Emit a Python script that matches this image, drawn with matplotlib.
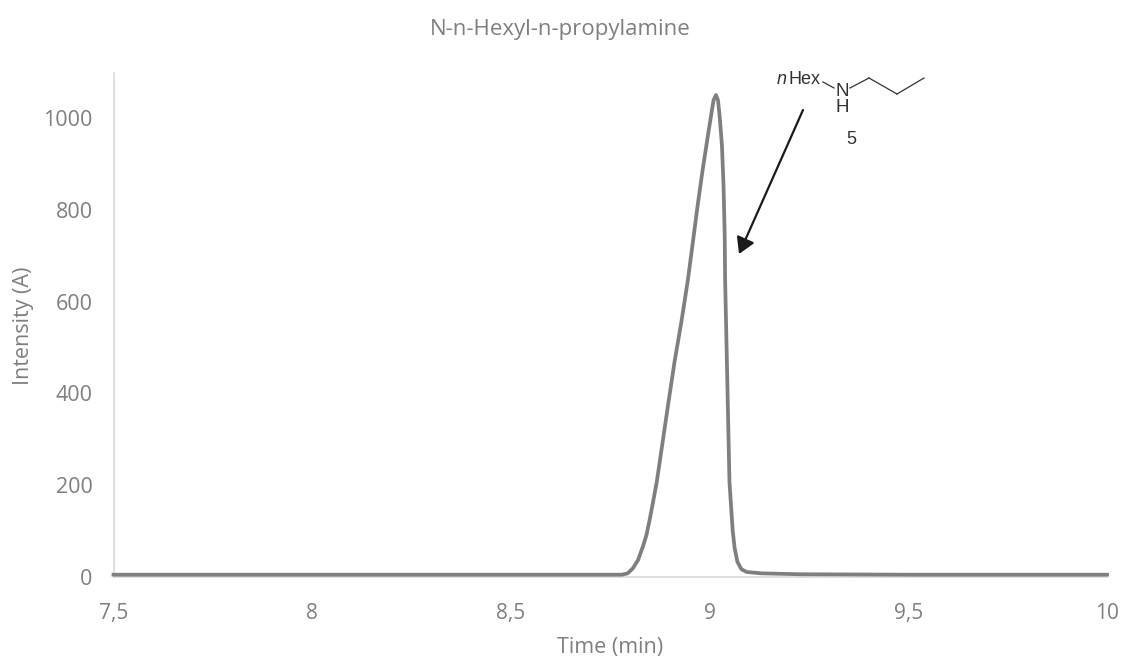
import matplotlib
matplotlib.use("Agg")
import matplotlib.pyplot as plt
from matplotlib.lines import Line2D
from matplotlib.patches import FancyArrowPatch

time_min = [7.5, 8.0, 8.5, 8.76, 8.779, 8.794, 8.807, 8.82, 8.832, 8.841, 8.849, 8.857, 8.867,
            8.882, 8.895, 8.912, 8.929, 8.945, 8.958, 8.970, 8.983, 8.996, 9.004, 9.010, 9.016,
            9.021, 9.025, 9.031, 9.035, 9.038, 9.039, 9.043, 9.046, 9.05, 9.058, 9.063, 9.07,
            9.08, 9.093, 9.13, 9.226, 9.5, 10.0]
intensity = [5, 5, 5, 5, 5, 8, 19, 37, 66, 91, 124, 160, 207,
             295, 372, 470, 556, 645, 730, 810, 890, 963, 1007, 1039, 1050,
             1039, 1007, 941, 854, 745, 650, 490, 368, 207, 102, 63, 33,
             17, 11, 8, 6, 5, 5]
x_ticks = [7.5, 8, 8.5, 9, 9.5, 10]
x_labels = ["7,5", "8", "8,5", "9", "9,5", "10"]
y_ticks = [0, 200, 400, 600, 800, 1000]
title = "N-n-Hexyl-n-propylamine"
xlabel = "Time (min)"
ylabel = "Intensity (A)"

W, H = 1122, 659
TXT = "#7f7f7f"
plt.rcParams["font.family"] = ["Open Sans", "DejaVu Sans"]
fig = plt.figure(figsize=(W / 100, H / 100), dpi=100, facecolor="white")
ax = fig.add_axes([113.5 / W, 1 - 577 / H, (1107 - 113.5) / W, (577 - 73) / H])
ax.plot(time_min, intensity, color="#7f7f7f", lw=2.7, solid_joinstyle="round", clip_on=False, zorder=3)
ax.set_xlim(7.5, 10)
ax.set_ylim(0, 1098)
ax.set_xticks(x_ticks, x_labels)
ax.set_yticks(y_ticks)
ax.tick_params(axis="x", length=0, labelsize=15, labelcolor=TXT, pad=19)
ax.tick_params(axis="y", length=0, labelsize=15.5, labelcolor=TXT, pad=15)
for s in ("top", "right"):
    ax.spines[s].set_visible(False)
for s in ("left", "bottom"):
    ax.spines[s].set_color("#d9d9d9")
    ax.spines[s].set_linewidth(1.2)
fig.text(560 / W, 1 - 29 / H, title, ha="center", va="center", fontsize=16, color=TXT)
fig.text(610 / W, 1 - 647 / H, xlabel, ha="center", va="center", fontsize=15.5, color=TXT)
fig.text(24 / W, 1 - 326 / H, ylabel, ha="center", va="center", rotation=90, fontsize=15.5, color=TXT)

def px(x, y):
    return (x / W, 1 - y / H)

# structure drawing overlay
C = "#333333"
for seg in ([(823, 82), (834, 88)], [(850, 88), (869, 78)], [(869, 78), (897, 94)], [(897, 94), (924, 78)]):
    xs, ys = zip(*[px(*p) for p in seg])
    fig.add_artist(Line2D(xs, ys, color=C, lw=0.9, transform=fig.transFigure))
F = ["Liberation Sans", "DejaVu Sans"]
fig.text(*px(820, 79), "Hex", ha="right", va="center", fontsize=13, color=C, family=F)
fig.text(*px(787, 79), "n", ha="right", va="center", fontsize=13, color=C, family=F, style="italic")
fig.text(*px(842, 92), "N", ha="center", va="center", fontsize=13.5, color=C, family=F)
fig.text(*px(842, 108), "H", ha="center", va="center", fontsize=13.5, color=C, family=F)
fig.text(*px(851, 139), "5", ha="center", va="center", fontsize=13, color=C, family=F)
fig.add_artist(FancyArrowPatch(px(803, 110), px(739, 254), transform=fig.transFigure,
                               arrowstyle="-|>,head_length=4.4,head_width=2.6", color="#1a1a1a",
                               lw=1.6, shrinkA=0, shrinkB=0, mutation_scale=2.2))
fig.savefig("out.png", dpi=100)
